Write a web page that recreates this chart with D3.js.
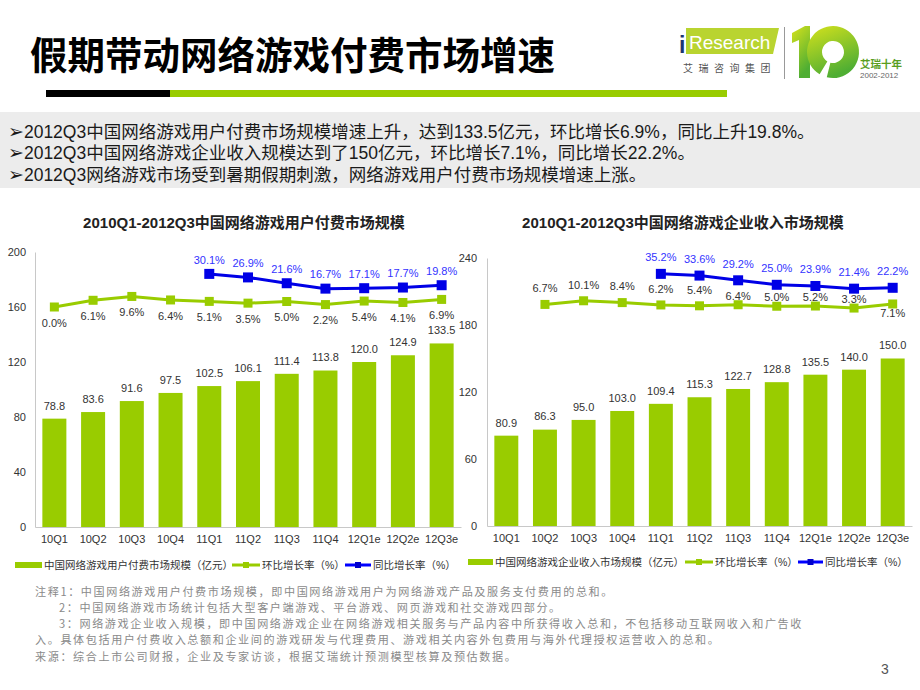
<!DOCTYPE html>
<html><head><meta charset="utf-8">
<script src="https://cdn.jsdelivr.net/npm/d3@7/dist/d3.min.js"></script>
<style>
html,body{margin:0;padding:0;background:#fff;}
svg{display:block;}
</style></head>
<body><svg id="c" width="920" height="690"></svg>
<script>
// ---------------- data ----------------
const categories = ["10Q1","10Q2","10Q3","10Q4","11Q1","11Q2","11Q3","11Q4","12Q1e","12Q2e","12Q3e"];
const userPay = [78.8,83.6,91.6,97.5,102.5,106.1,111.4,113.8,120.0,124.9,133.5];
const userQoQ = [0.0,6.1,9.6,6.4,5.1,3.5,5.0,2.2,5.4,4.1,6.9];
const userYoY = [null,null,null,null,30.1,26.9,21.6,16.7,17.1,17.7,19.8];
const corpRev = [80.9,86.3,95.0,103.0,109.4,115.3,122.7,128.8,135.5,140.0,150.0];
const corpQoQ = [null,6.7,10.1,8.4,6.2,5.4,6.4,5.0,5.2,3.3,7.1];
const corpYoY = [null,null,null,null,35.2,33.6,29.2,25.0,23.9,21.4,22.2];
const leftTicks = [0,40,80,120,160,200];
const rightTicks = [0,60,120,180,240];

const titleText = "假期带动网络游戏付费市场增速";
const bullets = [
  "2012Q3中国网络游戏用户付费市场规模增速上升，达到133.5亿元，环比增长6.9%，同比上升19.8%。",
  "2012Q3中国网络游戏企业收入规模达到了150亿元，环比增长7.1%，同比增长22.2%。",
  "2012Q3网络游戏市场受到暑期假期刺激，网络游戏用户付费市场规模增速上涨。"
];
const notes = [
  "注释1：中国网络游戏用户付费市场规模，即中国网络游戏用户为网络游戏产品及服务支付费用的总和。",
  "2：中国网络游戏市场统计包括大型客户端游戏、平台游戏、网页游戏和社交游戏四部分。",
  "3：网络游戏企业收入规模，即中国网络游戏企业在网络游戏相关服务与产品内容中所获得收入总和，不包括移动互联网收入和广告收",
  "入。具体包括用户付费收入总额和企业间的游戏研发与代理费用、游戏相关内容外包费用与海外代理授权运营收入的总和。",
  "来源：综合上市公司财报，企业及专家访谈，根据艾瑞统计预测模型核算及预估数据。"
];

// ---------------- style ----------------
const FONT = "'Liberation Sans','Noto Sans CJK SC',sans-serif";
const CJK = "'Noto Sans CJK SC',sans-serif";
const GREEN = "#99cc00";
const BLUE = "#0000ff";

const svg = d3.select("#c");
svg.append("rect").attr("width",920).attr("height",690).attr("fill","#fff");

// ---------------- header ----------------
svg.append("text").attr("x",30).attr("y",69)
  .attr("font-family",CJK).attr("font-weight",700).attr("font-size",37.5)
  .attr("fill","#000").text(titleText);
svg.append("rect").attr("x",46).attr("y",90).attr("width",124).attr("height",7).attr("fill","#000");
svg.append("rect").attr("x",170).attr("y",90).attr("width",557).attr("height",7).attr("fill",GREEN);

// logo
const defs = svg.append("defs");
const lg = defs.append("linearGradient").attr("id","tenG").attr("x1",0).attr("y1",0).attr("x2",0.4).attr("y2",1);
lg.append("stop").attr("offset","0%").attr("stop-color","#d6e21c");
lg.append("stop").attr("offset","100%").attr("stop-color","#4fae33");
const logo = svg.append("g");
logo.append("polygon").attr("points","686,28 779,28 773,54 686,54").attr("fill","#b9d430");
logo.append("text").attr("x",679).attr("y",53).attr("font-family",FONT).attr("font-weight",700)
  .attr("font-size",23).attr("fill","#1d3570").text("i");
logo.append("text").attr("x",689).attr("y",49).attr("font-family",FONT)
  .attr("font-size",19).attr("fill","#fff").text("Research");
logo.append("text").attr("x",683).attr("y",72).attr("font-family",CJK)
  .attr("font-size",10).attr("letter-spacing",5.5).attr("fill","#555").text("艾瑞咨询集团");
logo.append("line").attr("x1",784.5).attr("x2",784.5).attr("y1",27).attr("y2",79).attr("stroke","#999").attr("stroke-width",1);
logo.append("polygon").attr("points","792,33 805,26 810,26 810,78 799,78 799,40 792,43").attr("fill","url(#tenG)");
logo.append("path").attr("d",d3.arc().innerRadius(11).outerRadius(26).startAngle(-2.6).endAngle(3.1415*2-2.9)())
  .attr("transform","translate(833,52)").attr("fill","url(#tenG)");
logo.append("text").attr("x",860).attr("y",68).attr("font-family",CJK).attr("font-weight",700)
  .attr("font-size",10.5).attr("fill","#5a9e1e").text("艾瑞十年");
logo.append("text").attr("x",860).attr("y",78).attr("font-family",FONT)
  .attr("font-size",8).attr("fill","#666").text("2002-2012");

// ---------------- bullets ----------------
svg.append("rect").attr("x",0).attr("y",112).attr("width",920).attr("height",76).attr("fill","#ececec");
bullets.forEach((b,i)=>{
  const t = svg.append("text").attr("x",8).attr("y",137.5 + i*21.5)
    .attr("font-family",FONT).attr("font-size",17.5).attr("fill","#1a1a1a");
  t.append("tspan").attr("font-family","'DejaVu Sans',sans-serif").attr("font-size",19).text("➢");
  t.append("tspan").text(b);
});

// ---------------- charts ----------------
function chart(opt){
  const g = svg.append("g");
  const x = d3.scaleBand().domain(categories).range([opt.x0,opt.x1]).paddingInner(0.38).paddingOuter(0.19);
  const y = d3.scaleLinear().domain([0,opt.max]).range([opt.yb,opt.yt]);
  const y2 = d3.scaleLinear().domain([-200,50]).range([opt.yb,opt.yt]);
  const cx = c => x(c) + x.bandwidth()/2;

  // title
  g.append("text").attr("x",opt.tx).attr("y",228).attr("text-anchor","middle")
    .attr("font-family",FONT).attr("font-weight",700).attr("font-size",15).attr("fill","#222").text(opt.title);

  // y axis
  const ya = d3.axisLeft(y).tickValues(opt.ticks).tickSize(0).tickPadding(0);
  const yg = g.append("g").attr("transform",`translate(${opt.x0},0)`).call(ya);
  yg.select(".domain").attr("stroke","#c8c8c8");
  yg.selectAll("text").attr("x",opt.labX - opt.x0).attr("font-family",FONT).attr("font-size",11).attr("fill","#333");

  // x axis
  const xa = d3.axisBottom(x).tickSize(0).tickPadding(8);
  const xg = g.append("g").attr("transform",`translate(0,${opt.yb})`).call(xa);
  xg.select(".domain").attr("stroke","#c8c8c8");
  xg.selectAll("text").attr("font-family",FONT).attr("font-size",11).attr("fill","#333");

  // bars
  g.selectAll("rect.bar").data(opt.bars).join("rect").attr("class","bar")
    .attr("x",(d,i)=>x(categories[i])).attr("width",x.bandwidth())
    .attr("y",d=>y(d)).attr("height",d=>opt.yb - y(d)).attr("fill",GREEN);
  g.selectAll("text.bl").data(opt.bars).join("text").attr("class","bl")
    .attr("x",(d,i)=>cx(categories[i])).attr("y",d=>y(d)-13).attr("dy","0.35em")
    .attr("text-anchor","middle").attr("font-family",FONT).attr("font-size",11).attr("fill","#333")
    .text(d=>d.toFixed(1));

  // lines
  function series(vals,color,ms,labColor,dyFn){
    const pts = vals.map((v,i)=>({v,c:categories[i],i})).filter(p=>p.v!==null);
    const line = d3.line().x(p=>cx(p.c)).y(p=>y2(p.v));
    g.append("path").attr("d",line(pts)).attr("fill","none").attr("stroke",color).attr("stroke-width",3);
    g.selectAll(null).data(pts).join("rect")
      .attr("x",p=>cx(p.c)-ms/2).attr("y",p=>y2(p.v)-ms/2).attr("width",ms).attr("height",ms).attr("fill",color);
    g.selectAll(null).data(pts).join("text")
      .attr("x",p=>cx(p.c)).attr("y",p=>y2(p.v)+dyFn(p.i)).attr("dy","0.35em")
      .attr("text-anchor","middle").attr("font-family",FONT).attr("font-size",11).attr("fill",labColor)
      .text(p=>p.v.toFixed(1)+"%");
  }
  series(opt.qoq,GREEN,9,"#333",opt.qoqDy);
  series(opt.yoy,"#0000e6",10,"#3333ff",opt.yoyDy);

  // legend
  const ly = opt.ly;
  const L = g.append("g").attr("font-family",FONT).attr("font-size",10.5).attr("fill","#333");
  L.append("rect").attr("x",opt.leg[0]).attr("y",ly-3).attr("width",opt.leg[1]-opt.leg[0]).attr("height",6).attr("fill",GREEN);
  L.append("text").attr("x",opt.leg[1]+2).attr("y",ly).attr("dy","0.35em").text(opt.legText);
  L.append("line").attr("x1",opt.leg[2]).attr("x2",opt.leg[3]).attr("y1",ly).attr("y2",ly).attr("stroke",GREEN).attr("stroke-width",3);
  L.append("rect").attr("x",(opt.leg[2]+opt.leg[3])/2-3).attr("y",ly-3).attr("width",6).attr("height",6).attr("fill",GREEN);
  L.append("text").attr("x",opt.leg[3]+2).attr("y",ly).attr("dy","0.35em").text("环比增长率（%）");
  L.append("line").attr("x1",opt.leg[4]).attr("x2",opt.leg[5]).attr("y1",ly).attr("y2",ly).attr("stroke",BLUE).attr("stroke-width",3);
  L.append("rect").attr("x",(opt.leg[4]+opt.leg[5])/2-3).attr("y",ly-3).attr("width",6).attr("height",6).attr("fill","#0000cc");
  L.append("text").attr("x",opt.leg[5]+2).attr("y",ly).attr("dy","0.35em").text("同比增长率（%）");
}

chart({
  x0:35, x1:461, yb:527, yt:252, max:200, ticks:leftTicks, labX:26, tx:244,
  title:"2010Q1-2012Q3中国网络游戏用户付费市场规模",
  bars:userPay, qoq:userQoQ, yoy:userYoY,
  qoqDy:()=>16, yoyDy:()=>-14,
  ly:565, leg:[15,42,232,260,345,371],
  legText:"中国网络游戏用户付费市场规模（亿元）"
});
chart({
  x0:487, x1:912, yb:526, yt:258, max:240, ticks:rightTicks, labX:477, tx:683,
  title:"2010Q1-2012Q3中国网络游戏企业收入市场规模",
  bars:corpRev, qoq:corpQoQ, yoy:corpYoY,
  qoqDy:i=> i===10 ? 9 : (i>=6 ? -9 : -16), yoyDy:()=>-16.5,
  ly:562, leg:[468,493,685,713,798,823],
  legText:"中国网络游戏企业收入市场规模（亿元）"
});

// ---------------- notes ----------------
const noteX = [35,59,59,35,35];
notes.forEach((n,i)=>{
  svg.append("text").attr("x",noteX[i]).attr("y",592 + i*16.2).attr("dy","0.35em")
    .attr("font-family",CJK).attr("font-size",11.1).attr("letter-spacing",1.6)
    .attr("fill","#8a8a8a").text(n);
});
svg.append("text").attr("x",881).attr("y",669).attr("dy","0.35em")
  .attr("font-family",FONT).attr("font-size",14).attr("fill","#555").text("3");
</script>
</body></html>
